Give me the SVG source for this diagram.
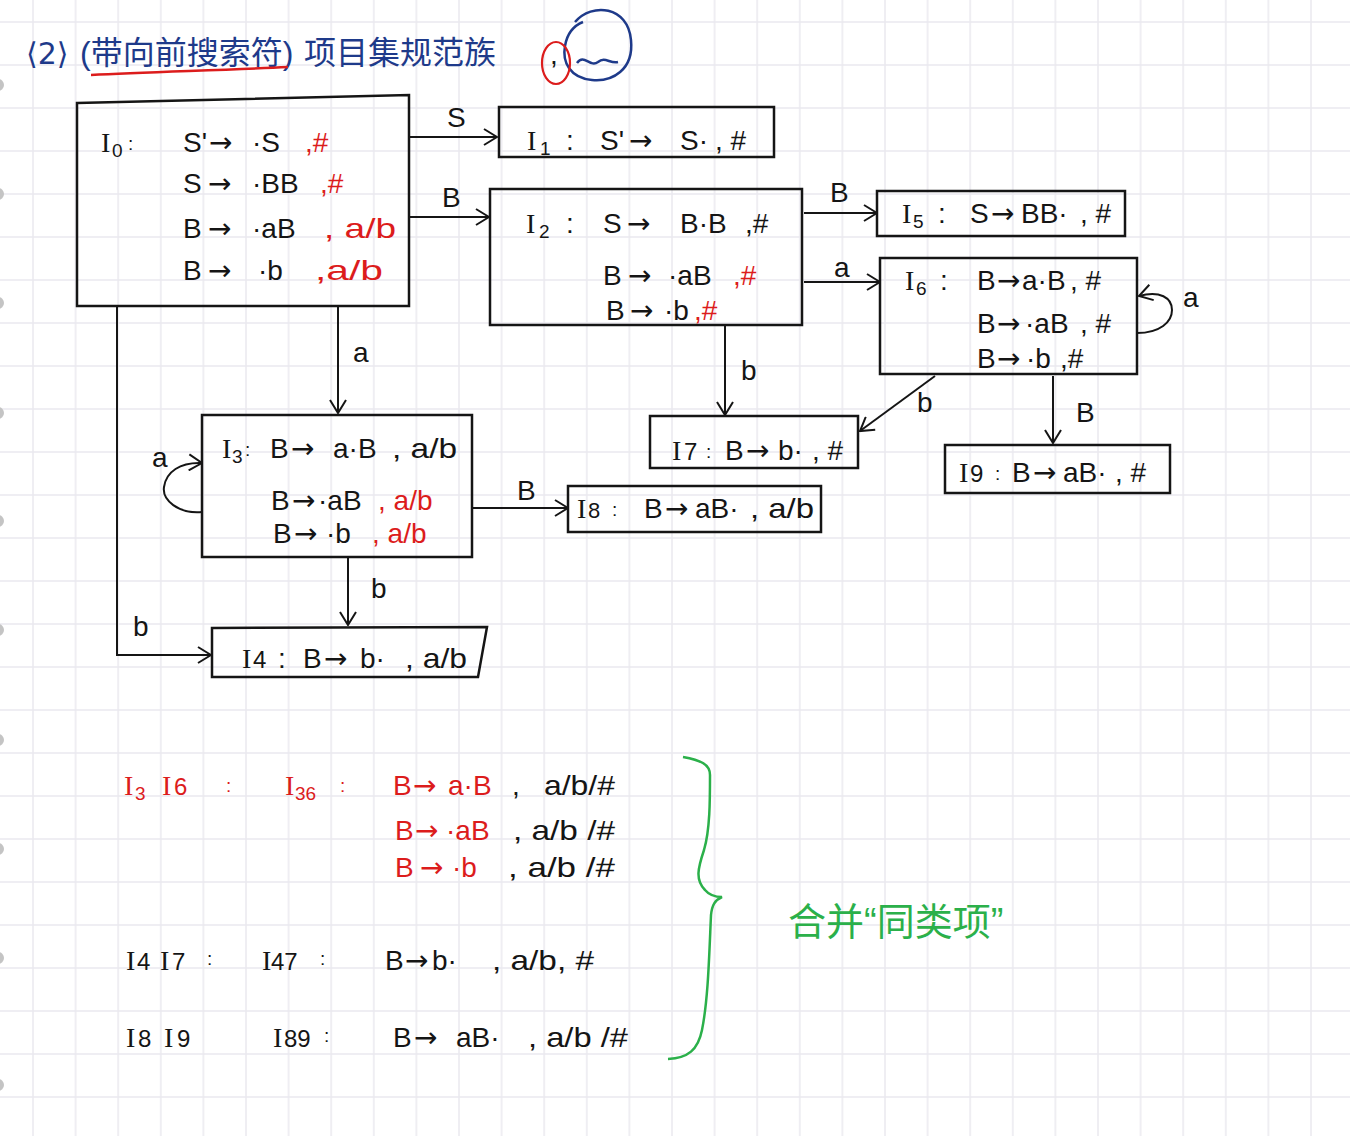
<svg xmlns="http://www.w3.org/2000/svg" width="1350" height="1136" viewBox="0 0 1350 1136">
<style>
.t{font-family:"Liberation Sans","Noto Sans CJK SC",sans-serif;font-size:28px;fill:#151515}
.r{fill:#dc1c1c}
.s{font-size:19px}
.I{font-family:"Liberation Serif",serif}
.ar{font-family:"DejaVu Sans",sans-serif}
.box{fill:none;stroke:#151515;stroke-width:2.5}
.e{fill:none;stroke:#151515;stroke-width:2;marker-end:url(#ah)}
.cjk{font-family:"Liberation Sans","Noto Sans CJK SC",sans-serif}
</style>
<defs>
<pattern id="grid" patternUnits="userSpaceOnUse" x="32" y="21" width="42.6" height="43">
<path d="M1,0 V43 M0,1 H42.6" stroke="#eae9ef" stroke-width="1.5" fill="none"/>
</pattern>
<marker id="ah" markerUnits="userSpaceOnUse" markerWidth="16" markerHeight="18" viewBox="0 0 16 18" refX="15" refY="9" orient="auto">
<path d="M2,1 L15,9 L2,17" fill="none" stroke="#151515" stroke-width="2"/>
</marker>
</defs>
<rect width="1350" height="1136" fill="#ffffff"/>
<rect width="1350" height="1136" fill="url(#grid)"/>
<g id="holes" fill="#c4c4c4">
<circle cx="-2" cy="85" r="6"/><circle cx="-2" cy="194" r="6"/><circle cx="-2" cy="303" r="6"/><circle cx="-2" cy="413" r="6"/><circle cx="-2" cy="521" r="6"/><circle cx="-2" cy="630" r="6"/><circle cx="-2" cy="740" r="6"/><circle cx="-2" cy="849" r="6"/><circle cx="-2" cy="958" r="6"/><circle cx="-2" cy="1085" r="6"/>
</g>

<g id="title">
<text class="cjk" y="64" font-size="32" fill="#1e3a8a"><tspan class="ar" x="26" font-size="30">⟨2⟩</tspan><tspan x="80">(带向前搜索符)</tspan><tspan x="304">项目集规范族</tspan></text>
<path d="M91,75 C150,72 230,70 288,67" fill="none" stroke="#dc1c1c" stroke-width="2.5"/>
</g>
<g id="doodle">
<path d="M575,22 C592,2 628,6 631,40 C634,70 612,82 592,80 C570,78 562,62 565,46 C567,34 573,26 583,22" fill="none" stroke="#1e3a8a" stroke-width="2.5"/>
<path d="M577,63 C584,53 590,68 598,62 C605,56 610,64 618,62" fill="none" stroke="#1e3a8a" stroke-width="2.5"/>
<ellipse cx="556" cy="63" rx="14" ry="21" fill="none" stroke="#dc1c1c" stroke-width="2.2"/>
<text class="t" x="550" y="64" font-size="24" fill="#1e3a8a">,</text>
</g>

<g id="connectors">
<path class="e" d="M409,137 H497"/>
<path class="e" d="M409,217 H489"/>
<path class="e" d="M338,306 V413"/>
<path class="e" d="M117,306 V655 H211"/>
<path class="e" d="M804,213 H877"/>
<path class="e" d="M804,282 H880"/>
<path class="e" d="M725,326 V415"/>
<path class="e" d="M935,376 L860,431"/>
<path class="e" d="M1053,376 V443"/>
<path class="e" d="M1137,333 C1160,333 1172,322 1172,310 C1172,298 1160,290 1139,296"/>
<path class="e" d="M202,512 C178,514 162,500 164,487 C166,472 180,462 202,463"/>
<path class="e" d="M472,508 H568"/>
<path class="e" d="M348,557 V625"/>
<text class="t" x="447" y="127">S</text>
<text class="t" x="442" y="207">B</text>
<text class="t" x="353" y="362">a</text>
<text class="t" x="133" y="636">b</text>
<text class="t" x="830" y="202">B</text>
<text class="t" x="834" y="277">a</text>
<text class="t" x="741" y="380">b</text>
<text class="t" x="917" y="412">b</text>
<text class="t" x="1076" y="422">B</text>
<text class="t" x="1183" y="307">a</text>
<text class="t" x="152" y="467">a</text>
<text class="t" x="517" y="500">B</text>
<text class="t" x="371" y="598">b</text>
</g>

<g id="I0">
<polygon class="box" points="77,103 409,95 409,306 77,306"/>
<text class="t" y="152" fill="#1f4fa0"><tspan class="I" x="101">I</tspan><tspan class="s" x="112" y="157">0</tspan><tspan class="s" x="128" y="150">:</tspan></text>
<text class="t" y="152"><tspan x="183">S'</tspan><tspan class="ar" x="209">→</tspan><tspan x="252">·S</tspan><tspan class="r" x="305">,#</tspan></text>
<text class="t" y="193"><tspan x="183">S</tspan><tspan class="ar" x="208">→</tspan><tspan x="252">·BB</tspan><tspan class="r" x="320">,#</tspan></text>
<text class="t" y="238"><tspan x="183">B</tspan><tspan class="ar" x="208">→</tspan><tspan x="252">·aB</tspan></text>
<text class="t r" x="324" y="238" textLength="72" lengthAdjust="spacingAndGlyphs">, a/b</text>
<text class="t" y="280"><tspan x="183">B</tspan><tspan class="ar" x="208">→</tspan><tspan x="258">·b</tspan></text>
<text class="t r" x="315" y="280" textLength="68" lengthAdjust="spacingAndGlyphs">,a/b</text>
</g>

<g id="I1">
<rect class="box" x="499" y="107" width="275" height="50"/>
<text class="t" y="150" font-size="30"><tspan class="I" x="527">I</tspan><tspan class="s" x="540" y="155">1</tspan><tspan x="566" y="150">:</tspan><tspan x="600">S'</tspan><tspan class="ar" x="629">→</tspan><tspan x="680">S·</tspan><tspan x="715">, #</tspan></text>
</g>

<g id="I2">
<rect class="box" x="490" y="189" width="312" height="136"/>
<text class="t" y="233" font-size="30"><tspan class="I" x="526">I</tspan><tspan class="s" x="539" y="238">2</tspan><tspan x="566" y="233">:</tspan><tspan x="603">S</tspan><tspan class="ar" x="627">→</tspan><tspan x="680">B·B</tspan><tspan x="745">,#</tspan></text>
<text class="t" y="285" font-size="30"><tspan x="603">B</tspan><tspan class="ar" x="628">→</tspan><tspan x="668">·aB</tspan><tspan class="r" x="733">,#</tspan></text>
<text class="t" y="320" font-size="30"><tspan x="606">B</tspan><tspan class="ar" x="630">→</tspan><tspan x="664">·b</tspan><tspan class="r" x="694">,#</tspan></text>
</g>

<g id="I5">
<rect class="box" x="877" y="191" width="248" height="45"/>
<text class="t" y="223"><tspan class="I" x="902">I</tspan><tspan class="s" x="913" y="228">5</tspan><tspan x="938" y="223">:</tspan><tspan x="970">S</tspan><tspan class="ar" x="991">→</tspan><tspan x="1021">BB·</tspan><tspan x="1080">, #</tspan></text>
</g>

<g id="I6">
<rect class="box" x="880" y="258" width="257" height="116"/>
<text class="t" y="290"><tspan class="I" x="905">I</tspan><tspan class="s" x="916" y="295">6</tspan><tspan x="940" y="290">:</tspan><tspan x="977">B</tspan><tspan class="ar" x="997">→</tspan><tspan x="1022">a·B</tspan><tspan x="1070">, #</tspan></text>
<text class="t" y="333"><tspan x="977">B</tspan><tspan class="ar" x="997">→</tspan><tspan x="1025">·aB</tspan><tspan x="1080">, #</tspan></text>
<text class="t" y="368"><tspan x="977">B</tspan><tspan class="ar" x="997">→</tspan><tspan x="1026">·b</tspan><tspan x="1060">,#</tspan></text>
</g>

<g id="I3">
<rect class="box" x="202" y="415" width="270" height="142"/>
<text class="t" y="458"><tspan class="I" x="222">I</tspan><tspan class="s" x="232" y="463">3</tspan><tspan class="s" x="245" y="456">:</tspan><tspan x="270" y="458">B</tspan><tspan class="ar" x="291">→</tspan><tspan x="333">a·B</tspan></text>
<text class="t" x="392" y="458" textLength="65" lengthAdjust="spacingAndGlyphs">, a/b</text>
<text class="t" y="510"><tspan x="271">B</tspan><tspan class="ar" x="292">→</tspan><tspan x="318">·aB</tspan><tspan class="r" x="378">, a/b</tspan></text>
<text class="t" y="543"><tspan x="273">B</tspan><tspan class="ar" x="294">→</tspan><tspan x="326">·b</tspan><tspan class="r" x="372">, a/b</tspan></text>
</g>

<g id="I4">
<polygon class="box" points="212,628 487,627 478,677 212,677"/>
<text class="t" y="668"><tspan class="I" x="242">I</tspan><tspan x="253" font-size="24">4</tspan><tspan x="278">:</tspan><tspan x="303">B</tspan><tspan class="ar" x="324">→</tspan><tspan x="360">b·</tspan></text>
<text class="t" x="405" y="668" textLength="62" lengthAdjust="spacingAndGlyphs">, a/b</text>
</g>

<g id="I7">
<rect class="box" x="650" y="416" width="208" height="52"/>
<text class="t" y="460"><tspan class="I" x="672">I</tspan><tspan x="684" font-size="24">7</tspan><tspan class="s" x="706" y="458">:</tspan><tspan x="725" y="460">B</tspan><tspan class="ar" x="746">→</tspan><tspan x="778">b·</tspan><tspan x="812">, #</tspan></text>
</g>

<g id="I8">
<rect class="box" x="568" y="486" width="253" height="46"/>
<text class="t" y="518"><tspan class="I" x="577">I</tspan><tspan x="588" font-size="22">8</tspan><tspan class="s" x="612" y="516">:</tspan><tspan x="644" y="518">B</tspan><tspan class="ar" x="665">→</tspan><tspan x="695">aB·</tspan></text>
<text class="t" x="750" y="518" textLength="64" lengthAdjust="spacingAndGlyphs">, a/b</text>
</g>

<g id="I9">
<rect class="box" x="945" y="445" width="225" height="48"/>
<text class="t" y="482"><tspan class="I" x="959">I</tspan><tspan x="970" font-size="24">9</tspan><tspan class="s" x="995" y="480">:</tspan><tspan x="1012" y="482">B</tspan><tspan class="ar" x="1033">→</tspan><tspan x="1063">aB·</tspan><tspan x="1115">, #</tspan></text>
</g>

<g id="merge-notes">
<text class="t r" y="795"><tspan class="I" x="124">I</tspan><tspan class="s" x="135" y="800">3</tspan><tspan class="I" x="162" y="795">I</tspan><tspan x="174" font-size="24">6</tspan><tspan class="s" x="226" y="792">:</tspan><tspan class="I" x="285" y="795">I</tspan><tspan class="s" x="295" y="800">36</tspan><tspan class="s" x="340" y="792">:</tspan></text>
<text class="t" y="795"><tspan class="r" x="393">B</tspan><tspan class="r ar" x="413">→</tspan><tspan class="r" x="448">a·B</tspan><tspan x="512">,</tspan></text>
<text class="t" x="544" y="795" textLength="71" lengthAdjust="spacingAndGlyphs">a/b/#</text>
<text class="t" y="840"><tspan class="r" x="395">B</tspan><tspan class="r ar" x="415">→</tspan><tspan class="r" x="446">·aB</tspan></text>
<text class="t" x="513" y="840" textLength="102" lengthAdjust="spacingAndGlyphs">, a/b /#</text>
<text class="t" y="877"><tspan class="r" x="395">B</tspan><tspan class="r ar" x="420">→</tspan><tspan class="r" x="452">·b</tspan></text>
<text class="t" x="508" y="877" textLength="107" lengthAdjust="spacingAndGlyphs">, a/b /#</text>

<text class="t" y="970"><tspan class="I" x="126">I</tspan><tspan x="137" font-size="24">4</tspan><tspan class="I" x="160">I</tspan><tspan x="172" font-size="24">7</tspan><tspan class="s" x="207" y="965">:</tspan><tspan class="I" x="262" y="970">I</tspan><tspan x="271" font-size="24">47</tspan><tspan class="s" x="320" y="965">:</tspan><tspan x="385" y="970">B</tspan><tspan class="ar" x="405">→</tspan><tspan x="432">b·</tspan></text>
<text class="t" x="492" y="970" textLength="102" lengthAdjust="spacingAndGlyphs">, a/b, #</text>

<text class="t" y="1047"><tspan class="I" x="126">I</tspan><tspan x="138" font-size="24">8</tspan><tspan class="I" x="164">I</tspan><tspan x="177" font-size="24">9</tspan><tspan class="I" x="273">I</tspan><tspan x="284" font-size="24">89</tspan><tspan class="s" x="324" y="1042">:</tspan><tspan x="393" y="1047">B</tspan><tspan class="ar" x="414">→</tspan><tspan x="456">aB·</tspan></text>
<text class="t" x="528" y="1047" textLength="100" lengthAdjust="spacingAndGlyphs">, a/b /#</text>

<path d="M683,757 C700,760 710,764 710,775 C710,800 710,830 704,850 C698,868 695,880 705,890 C710,896 718,897 722,897 C715,900 712,905 711,915 C709,960 708,1000 702,1030 C698,1050 688,1058 668,1059" fill="none" stroke="#2bb04a" stroke-width="2.5"/>
<text class="cjk" x="788" y="935" font-size="38" fill="#2bb04a">合并“同类项”</text>
</g>
</svg>
